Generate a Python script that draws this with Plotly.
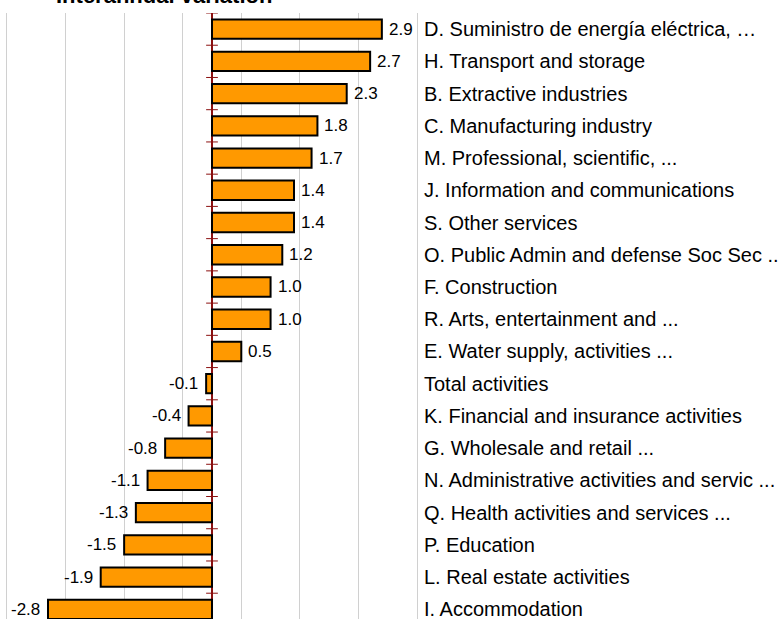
import plotly.graph_objects as go

categories = [
    "D. Suministro de energía eléctrica, …",
    "H. Transport and storage",
    "B. Extractive industries",
    "C. Manufacturing industry",
    "M. Professional, scientific, ...",
    "J. Information and communications",
    "S. Other services",
    "O. Public Admin and defense Soc Sec ..",
    "F. Construction",
    "R. Arts, entertainment and ...",
    "E. Water supply, activities ...",
    "Total activities",
    "K. Financial and insurance activities",
    "G. Wholesale and retail ...",
    "N. Administrative activities and servic ...",
    "Q. Health activities and services ...",
    "P. Education",
    "L. Real estate activities",
    "I. Accommodation",
]
values = [2.9, 2.7, 2.3, 1.8, 1.7, 1.4, 1.4, 1.2, 1.0, 1.0, 0.5,
          -0.1, -0.4, -0.8, -1.1, -1.3, -1.5, -1.9, -2.8]
title_text = "Interannual variation"

FONT = "Liberation Sans, Arial, sans-serif"
pos = list(range(len(categories)))

fig = go.Figure()
fig.add_trace(go.Bar(
    x=values, y=pos, orientation="h", width=0.6,
    marker=dict(color="#FF9900", line=dict(color="#000000", width=2)),
    hoverinfo="skip", showlegend=False,
))

annotations = []
for p, v in zip(pos, values):
    annotations.append(dict(
        x=v, y=p, xref="x", yref="y", text=f"{v:.1f}", showarrow=False,
        xanchor="left" if v >= 0 else "right", xshift=5 if v >= 0 else -6,
        font=dict(family=FONT, size=17, color="#000000"),
    ))
annotations.append(dict(
    x=0, y=1, xref="paper", yref="paper", text=f"<b>{title_text}</b>",
    showarrow=False, xanchor="left", yanchor="bottom", xshift=47, yshift=3,
    font=dict(family=FONT, size=22, color="#000000"),
))

shapes = []
for p in pos:
    shapes.append(dict(type="line", xref="x", yref="y",
                       x0=-0.1, x1=0.1, y0=p - 0.5, y1=p - 0.5,
                       line=dict(color="#8B1010", width=1)))

fig.update_layout(
    width=781, height=619,
    margin=dict(l=7, r=364, t=13, b=0, pad=0),
    paper_bgcolor="white", plot_bgcolor="white",
    bargap=0.4,
    annotations=annotations, shapes=shapes,
    xaxis=dict(range=[-3.5, 3.5], tick0=0.5, dtick=1, showticklabels=False,
               showgrid=True, gridcolor="#d0d0d0", gridwidth=1,
               zeroline=True, zerolinecolor="#8B1010", zerolinewidth=2,
               ticks="", showline=False, fixedrange=True),
    yaxis=dict(range=[18.3, -0.5], tickmode="array", tickvals=pos,
               ticktext=categories, side="right", ticks="",
               showgrid=False, zeroline=False, automargin=False,
               showline=True, mirror=True, linecolor="#d0d0d0", linewidth=1,
               ticklabelstandoff=2, ticklabeloverflow="allow",
               tickfont=dict(family=FONT, size=20, color="#000000")),
)

fig.write_html("out.html", config={"displayModeBar": False},
               post_script="document.body.style.margin='0';document.body.style.overflow='hidden';")
